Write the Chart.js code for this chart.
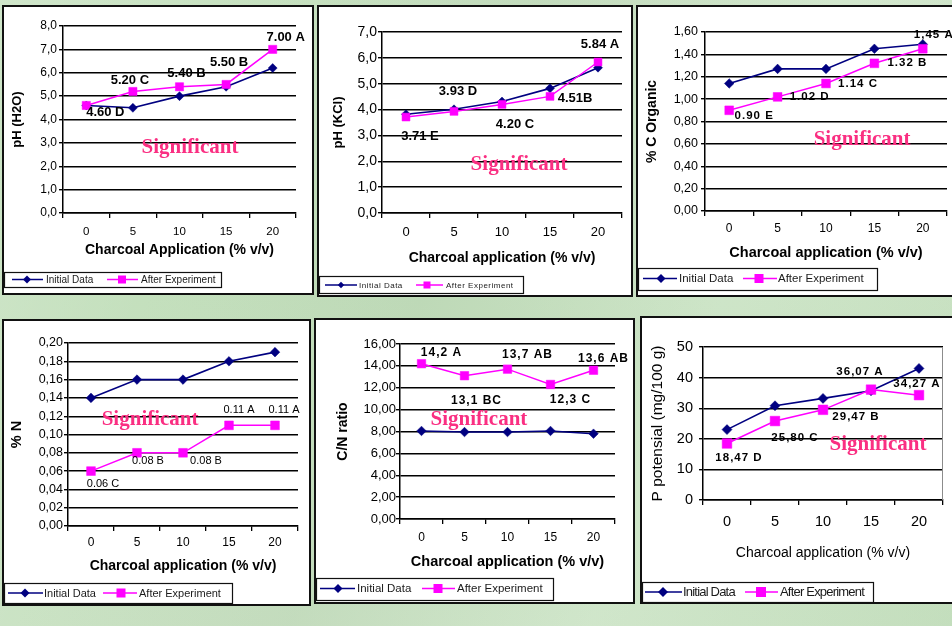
<!DOCTYPE html>
<html>
<head>
<meta charset="utf-8">
<script src="https://cdn.jsdelivr.net/npm/chart.js@4"></script>
<style>
  html, body { margin: 0; padding: 0; }
  body {
    width: 952px; height: 626px; overflow: hidden; position: relative;
    background:
      linear-gradient(112deg, rgba(255,255,255,0.20) 0%, rgba(255,255,255,0) 22%, rgba(170,190,165,0.18) 45%, rgba(255,255,255,0.16) 70%, rgba(190,210,185,0.15) 100%),
      linear-gradient(20deg, rgba(220,235,215,0.35) 0%, rgba(200,225,195,0) 50%, rgba(225,238,220,0.3) 100%),
      #c2dfbb;
  }
  .panel { position: absolute; box-sizing: border-box; border: 2px solid #111; background: #fff; }
  .panel canvas { position: absolute; left: 0; top: 0; }
</style>
</head>
<body>
<script>
// ---- data ----
const categories = ['0', '5', '10', '15', '20'];
const seriesNames = ['Initial Data', 'After Experiment'];

const phH2oInitial = [4.6, 4.5, 5.0, 5.4, 6.2];
const phH2oAfter   = [4.60, 5.20, 5.40, 5.50, 7.00];
const phH2oLabels  = ['4.60 D', '5.20 C', '5.40 B', '5.50 B', '7.00 A'];
const phH2oTicks   = ['0,0', '1,0', '2,0', '3,0', '4,0', '5,0', '6,0', '7,0', '8,0'];

const phKclInitial = [3.82, 4.01, 4.31, 4.82, 5.62];
const phKclAfter   = [3.71, 3.93, 4.20, 4.51, 5.84];
const phKclLabels  = ['3.71 E', '3.93 D', '4.20 C', '4.51B', '5.84 A'];
const phKclTicks   = ['0,0', '1,0', '2,0', '3,0', '4,0', '5,0', '6,0', '7,0'];

const cOrgInitial = [1.14, 1.27, 1.27, 1.45, 1.49];
const cOrgAfter   = [0.90, 1.02, 1.14, 1.32, 1.45];
const cOrgLabels  = ['0.90 E', '1.02 D', '1.14 C', '1.32 B', '1,45 A'];
const cOrgTicks   = ['0,00', '0,20', '0,40', '0,60', '0,80', '1,00', '1,20', '1,40', '1,60'];

const nInitial = [0.14, 0.16, 0.16, 0.18, 0.19];
const nAfter   = [0.06, 0.08, 0.08, 0.11, 0.11];
const nLabels  = ['0.06 C', '0.08 B', '0.08 B', '0.11 A', '0.11 A'];
const nTicks   = ['0,00', '0,02', '0,04', '0,06', '0,08', '0,10', '0,12', '0,14', '0,16', '0,18', '0,20'];

const cnInitial = [8.05, 7.95, 7.95, 8.05, 7.8];
const cnAfter   = [14.2, 13.1, 13.7, 12.3, 13.6];
const cnLabels  = ['14,2 A', '13,1 BC', '13,7 AB', '12,3 C', '13,6 AB'];
const cnTicks   = ['0,00', '2,00', '4,00', '6,00', '8,00', '10,00', '12,00', '14,00', '16,00'];

const pInitial = [23.0, 30.8, 33.2, 35.7, 43.0];
const pAfter   = [18.47, 25.80, 29.47, 36.07, 34.27];
const pLabels  = ['18,47 D', '25,80 C', '29,47 B', '36,07 A', '34,27 A'];
const pTicks   = ['0', '10', '20', '30', '40', '50'];

const significanceText = 'Significant';

// ---- styling ----
const NAVY = '#000080';
const MAGENTA = '#ff00ff';
const SANS = "'Liberation Sans', Arial, sans-serif";
const SERIF = "'Liberation Serif', 'Times New Roman', serif";

Chart.defaults.font.family = SANS;
Chart.defaults.color = '#000';

// Panel layouts in page pixels
const panels = [
  {
    box: [2, 5, 314, 295], area: [63, 26, 296, 213],
    yTitle: 'pH (H2O)', xTitle: 'Charcoal Application (% v/v)',
    yTitleFont: {size: 13, weight: 'bold'}, xTitleFont: {size: 14, weight: 'bold'},
    yTitleX: 17, xTitleY: 250, yTickRight: 57, xTickY: 232, yTickSize: 12, xTickSize: 11.5,
    yMin: 0, yMax: 8, yStep: 1, ticks: phH2oTicks,
    initial: phH2oInitial, after: phH2oAfter, labels: phH2oLabels,
    labelFont: 'bold 13px ' + SANS, labelSpacing: '0px',
    labelOffsets: [[19, 7], [-3, -11], [7, -13], [3, -22], [13, -12]],
    sig: [0.545, 0.652],
    diamondR: 4.5, squareR: 5.8,
    legend: {box: [4, 272, 221, 287], y: 279.5, font: '10px ' + SANS, spacing: '0px',
             items: [[12, 43, 27, 46], [107, 138, 122, 141]], dr: 4, sq: 8}
  },
  {
    box: [317, 5, 633, 297], area: [382, 32, 622, 213],
    yTitle: 'pH (KCl)', xTitle: 'Charcoal application (% v/v)',
    yTitleFont: {size: 13, weight: 'bold'}, xTitleFont: {size: 14, weight: 'bold'},
    yTitleX: 338, xTitleY: 258, yTickRight: 377, xTickY: 232, yTickSize: 14, xTickSize: 13,
    yMin: 0, yMax: 7, yStep: 1, ticks: phKclTicks,
    initial: phKclInitial, after: phKclAfter, labels: phKclLabels,
    labelFont: 'bold 13px ' + SANS, labelSpacing: '0px',
    labelOffsets: [[14, 19], [4, -20], [13, 20], [25, 2], [2, -18]],
    sig: [0.571, 0.735],
    diamondR: 4.5, squareR: 5.6,
    legend: {box: [319, 276, 523, 293], y: 285, font: '8px ' + SANS, spacing: '0.5px',
             items: [[325, 357, 341, 359], [416, 443, 427, 446]], dr: 3.2, sq: 7}
  },
  {
    box: [636, 5, 956, 297], area: [705, 32, 947, 211],
    yTitle: '% C Organic', xTitle: 'Charcoal application (% v/v)',
    yTitleFont: {size: 14, weight: 'bold'}, xTitleFont: {size: 14.5, weight: 'bold'},
    yTitleX: 652, xTitleY: 253, yTickRight: 698, xTickY: 229, yTickSize: 12.5, xTickSize: 12,
    yMin: 0, yMax: 1.6, yStep: 0.2, ticks: cOrgTicks,
    initial: cOrgInitial, after: cOrgAfter, labels: cOrgLabels,
    labelFont: 'bold 11.5px ' + SANS, labelSpacing: '1px',
    labelOffsets: [[25, 6], [32, 0], [32, 0], [33, 0], [11, -14]],
    sig: [0.649, 0.603],
    diamondR: 4.8, squareR: 6.2,
    legend: {box: [638, 268, 877, 290], y: 278.5, font: '11.5px ' + SANS, spacing: '0px',
             items: [[643, 677, 661, 679], [743, 777, 759, 778]], dr: 4.5, sq: 9}
  },
  {
    box: [2, 319, 311, 606], area: [68, 343, 298, 526],
    yTitle: '% N', xTitle: 'Charcoal application (% v/v)',
    yTitleFont: {size: 14.5, weight: 'bold'}, xTitleFont: {size: 14, weight: 'bold'},
    yTitleX: 17, xTitleY: 566, yTickRight: 63, xTickY: 543, yTickSize: 12.5, xTickSize: 12,
    yMin: 0, yMax: 0.2, yStep: 0.02, ticks: nTicks,
    initial: nInitial, after: nAfter, labels: nLabels,
    labelFont: '11px ' + SANS, labelSpacing: '0px',
    labelOffsets: [[12, 13], [11, 8], [23, 8], [10, -15], [9, -15]],
    sig: [0.357, 0.421],
    diamondR: 4.8, squareR: 6.2,
    legend: {box: [4, 583, 232, 603], y: 593, font: '11px ' + SANS, spacing: '0px',
             items: [[8, 43, 25, 44], [103, 137, 121, 139]], dr: 4.5, sq: 9}
  },
  {
    box: [314, 318, 635, 604], area: [400, 344, 615, 519],
    yTitle: 'C/N ratio', xTitle: 'Charcoal application (% v/v)',
    yTitleFont: {size: 14, weight: 'bold'}, xTitleFont: {size: 14.5, weight: 'bold'},
    yTitleX: 343, xTitleY: 562, yTickRight: 396, xTickY: 538, yTickSize: 13, xTickSize: 12,
    yMin: 0, yMax: 16, yStep: 2, ticks: cnTicks,
    initial: cnInitial, after: cnAfter, labels: cnLabels,
    labelFont: 'bold 12px ' + SANS, labelSpacing: '1px',
    labelOffsets: [[20, -11], [12, 25], [20, -14], [20, 15.5], [10, -12]],
    sig: [0.367, 0.434],
    diamondR: 4.8, squareR: 6,
    legend: {box: [316, 578, 553, 600], y: 588.5, font: '11.5px ' + SANS, spacing: '0px',
             items: [[320, 355, 338, 357], [422, 455, 438, 457]], dr: 4.5, sq: 9}
  },
  {
    box: [640, 316, 956, 604], area: [703, 347, 943, 500],
    yTitle: 'P potensial (mg/100 g)', xTitle: 'Charcoal application (% v/v)',
    yTitleFont: {size: 15.5, weight: 'normal'}, xTitleFont: {size: 14, weight: 'normal'},
    yTitleX: 658, xTitleY: 553, yTickRight: 693, xTickY: 522, yTickSize: 14.5, xTickSize: 14.5,
    yMin: 0, yMax: 50, yStep: 10, ticks: pTicks,
    initial: pInitial, after: pAfter, labels: pLabels,
    labelFont: 'bold 11.5px ' + SANS, labelSpacing: '1px',
    labelOffsets: [[12, 14.5], [20, 16.5], [33, 7.5], [-11, -18], [-2, -11]],
    sig: [0.729, 0.641],
    diamondR: 5, squareR: 6.8, plotBorder: '#8c8c8c',
    legend: {box: [642, 582, 873, 602], y: 592, font: '13px ' + SANS, spacing: '-0.8px',
             items: [[645, 682, 663, 683], [745, 778, 761, 780]], dr: 5, sq: 10}
  }
];

function drawDiamond(ctx, x, y, r, color) {
  ctx.fillStyle = color;
  ctx.beginPath();
  ctx.moveTo(x, y - r); ctx.lineTo(x + r, y); ctx.lineTo(x, y + r); ctx.lineTo(x - r, y);
  ctx.closePath(); ctx.fill();
}

function buildPanel(p) {
  const [bx1, by1, bx2, by2] = p.box;
  const div = document.createElement('div');
  div.className = 'panel';
  div.style.left = bx1 + 'px'; div.style.top = by1 + 'px';
  div.style.width = (bx2 - bx1) + 'px'; div.style.height = (by2 - by1) + 'px';
  const canvas = document.createElement('canvas');
  const ox = bx1 + 2, oy = by1 + 2;
  const cw = bx2 - bx1 - 4, ch = by2 - by1 - 4;
  canvas.width = cw; canvas.height = ch;
  canvas.style.width = cw + 'px'; canvas.style.height = ch + 'px';
  div.appendChild(canvas);
  document.body.appendChild(div);

  const [al, at, ar, ab] = p.area;
  const xtLH = p.xTitleFont.size * 1.2;
  const ytLH = p.yTitleFont.size * 1.2;
  const xAxisBottom = p.xTitleY - oy + xtLH / 2;
  const xAxisHeight = xAxisBottom - (ab - oy);
  const yAxisWidth = al - ox;
  const xTickPad = (p.xTickY - ab) - 5 - (p.xTickSize * 1.2) / 2;
  const yTickPad = (al - 4) - p.yTickRight;
  const yTitlePad = (p.yTitleX - ox) - ytLH / 2;

  // value labels next to the "After Experiment" points
  const valueLabels = {
    id: 'valueLabels',
    afterDatasetsDraw(chart) {
      const meta = chart.getDatasetMeta(1);
      const ctx = chart.ctx;
      ctx.save();
      ctx.font = p.labelFont;
      ctx.letterSpacing = p.labelSpacing;
      ctx.fillStyle = '#000';
      ctx.textAlign = 'center';
      ctx.textBaseline = 'middle';
      p.labels.forEach((t, i) => {
        const el = meta.data[i];
        const [dx, dy] = p.labelOffsets[i];
        ctx.fillText(t, el.x + dx, el.y + dy);
      });
      ctx.restore();
    }
  };

  // plot frame, significance note and boxed legend
  const decorations = {
    id: 'decorations',
    beforeDatasetsDraw(chart) {
      if (!p.plotBorder) return;
      const {left, top, right, bottom} = chart.chartArea;
      const ctx = chart.ctx;
      ctx.save();
      ctx.strokeStyle = p.plotBorder;
      ctx.lineWidth = 1;
      ctx.beginPath();
      ctx.moveTo(Math.round(left) + 0.5, Math.round(top) + 0.5);
      ctx.lineTo(Math.round(right) - 0.5, Math.round(top) + 0.5);
      ctx.lineTo(Math.round(right) - 0.5, Math.round(bottom));
      ctx.stroke();
      ctx.restore();
    },
    afterDraw(chart) {
      const ctx = chart.ctx;
      const ca = chart.chartArea;
      ctx.save();
      ctx.font = 'bold 21px ' + SERIF;
      ctx.fillStyle = '#fa2f82';
      ctx.textAlign = 'center';
      ctx.textBaseline = 'middle';
      ctx.fillText(significanceText,
        ca.left + p.sig[0] * (ca.right - ca.left),
        ca.top + p.sig[1] * (ca.bottom - ca.top));

      const lg = p.legend;
      const [lx1, ly1, lx2, ly2] = lg.box;
      ctx.strokeStyle = '#111';
      ctx.lineWidth = 1.2;
      ctx.strokeRect(lx1 - ox + 0.5, ly1 - oy + 0.5, lx2 - lx1, ly2 - ly1);
      const ly = lg.y - oy;
      ctx.font = lg.font;
      ctx.letterSpacing = lg.spacing;
      ctx.textAlign = 'left';
      ctx.textBaseline = 'middle';
      [NAVY, MAGENTA].forEach((color, i) => {
        const [x1, x2, mx, tx] = lg.items[i];
        ctx.strokeStyle = color;
        ctx.lineWidth = 1.5;
        ctx.beginPath();
        ctx.moveTo(x1 - ox, ly); ctx.lineTo(x2 - ox, ly);
        ctx.stroke();
        if (i === 0) {
          drawDiamond(ctx, mx - ox, ly, lg.dr, color);
        } else {
          ctx.fillStyle = color;
          ctx.fillRect(mx - ox - lg.sq / 2, ly - lg.sq / 2, lg.sq, lg.sq);
        }
        ctx.fillStyle = '#1a1a1a';
        ctx.fillText(seriesNames[i], tx - ox, ly + 0.5);
      });
      ctx.restore();
    }
  };

  new Chart(canvas, {
    type: 'line',
    data: {
      labels: categories,
      datasets: [
        {
          label: seriesNames[0], data: p.initial,
          borderColor: NAVY, backgroundColor: NAVY, borderWidth: 1.6,
          pointStyle: 'rectRot', pointRadius: p.diamondR,
          pointBackgroundColor: NAVY, pointBorderColor: NAVY, pointBorderWidth: 0.5,
          tension: 0, order: 1, clip: false
        },
        {
          label: seriesNames[1], data: p.after,
          borderColor: MAGENTA, backgroundColor: MAGENTA, borderWidth: 1.5,
          pointStyle: 'rect', pointRadius: p.squareR,
          pointBackgroundColor: MAGENTA, pointBorderColor: MAGENTA, pointBorderWidth: 0.5,
          tension: 0, order: 0, clip: false
        }
      ]
    },
    options: {
      responsive: false,
      animation: false,
      devicePixelRatio: 1,
      events: [],
      layout: {
        padding: {
          left: 0,
          top: at - oy,
          right: cw - (ar - ox),
          bottom: ch - xAxisBottom
        }
      },
      plugins: {legend: {display: false}, tooltip: {enabled: false}},
      scales: {
        x: {
          type: 'category',
          offset: true,
          grid: {offset: true, drawOnChartArea: false, drawTicks: true, tickLength: 5, color: '#000', lineWidth: 1.3},
          border: {display: true, color: '#000', width: 1.5},
          ticks: {font: {size: p.xTickSize}, color: '#000', padding: xTickPad, maxRotation: 0, autoSkip: false},
          title: {display: true, text: p.xTitle, font: p.xTitleFont, color: '#000', padding: {top: 0, bottom: 0}},
          afterFit(scale) { scale.height = xAxisHeight; }
        },
        y: {
          type: 'linear',
          min: p.yMin, max: p.yMax,
          grid: {color: '#000', lineWidth: 1.4, drawTicks: true, tickLength: 4},
          border: {display: true, color: '#000', width: 1.5},
          ticks: {
            stepSize: p.yStep, font: {size: p.yTickSize}, color: '#000', padding: yTickPad,
            callback: (v, i) => p.ticks[i]
          },
          title: {display: true, text: p.yTitle, font: p.yTitleFont, color: '#000', padding: {top: yTitlePad, bottom: 0}},
          afterFit(scale) { scale.width = yAxisWidth; }
        }
      }
    },
    plugins: [decorations, valueLabels]
  });
}

panels.forEach(buildPanel);
</script>
</body>
</html>
